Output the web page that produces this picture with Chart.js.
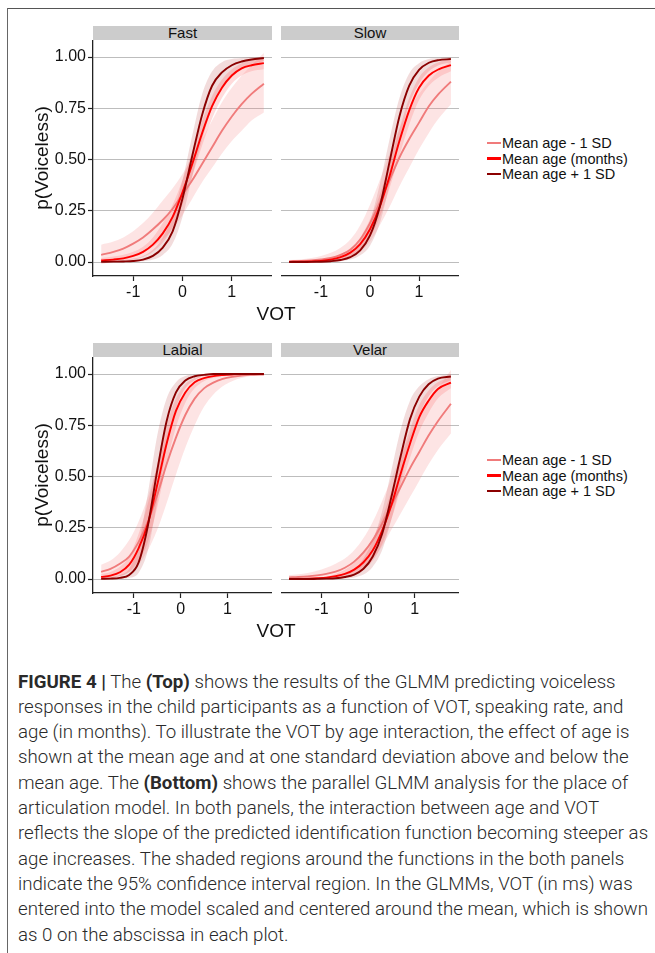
<!DOCTYPE html>
<html>
<head>
<meta charset="utf-8">
<script src="https://cdn.jsdelivr.net/npm/chart.js@4.4.1/dist/chart.umd.min.js"></script>
<style>
  html, body { margin:0; padding:0; background:#fff; }
  body { width:655px; height:953px; position:relative; overflow:hidden; font-family:"Liberation Sans", Arial, sans-serif; color:#111; }
  .abs { position:absolute; }
  .strip { position:absolute; height:14px; background:#cccccc; text-align:center; font-size:15px; line-height:14px; color:#111; }
  .ytitle { position:absolute; transform:translate(-50%,-50%) rotate(-90deg); font-size:19px; white-space:nowrap; }
  .xtitle { position:absolute; transform:translate(-50%,-50%); font-size:19px; white-space:nowrap; }
  .lkey { position:absolute; width:14px; height:2.5px; }
  .ltxt { position:absolute; font-size:14.5px; white-space:nowrap; transform:translateY(-50%); line-height:16px; }
  .cap { position:absolute; left:18px; font-family:Roboto, "Liberation Sans", sans-serif; font-weight:300; font-size:18px; color:#2a2a2a; white-space:nowrap; line-height:25px; transform-origin:0 50%; }
  .cap b { font-weight:700; }
  canvas { position:absolute; }
</style>
</head>
<body>
<div class="abs" style="left:7px;top:8px;width:648px;height:1px;background:#555"></div>
<div class="abs" style="left:7px;top:8px;width:1px;height:945px;background:#666"></div>

<div class="strip" style="left:93px;top:26px;width:179px">Fast</div>
<div class="strip" style="left:281px;top:26px;width:178px">Slow</div>
<div class="strip" style="left:93px;top:343px;width:179px">Labial</div>
<div class="strip" style="left:281px;top:343px;width:178px">Velar</div>

<canvas id="c1" width="232" height="266" style="left:40px;top:40px"></canvas>
<canvas id="c2" width="178" height="266" style="left:281px;top:40px"></canvas>
<canvas id="c3" width="232" height="266" style="left:40px;top:357px"></canvas>
<canvas id="c4" width="178" height="266" style="left:281px;top:357px"></canvas>

<div class="ytitle" style="left:42px;top:158px">p(Voiceless)</div>
<div class="ytitle" style="left:42px;top:475px">p(Voiceless)</div>
<div class="xtitle" style="left:276px;top:314px">VOT</div>
<div class="xtitle" style="left:276px;top:631px">VOT</div>

<div id="legends"></div>

<div id="caption"></div>

<script>
// ---------- data ----------
const yTicks = [0, 0.25, 0.5, 0.75, 1];
const xTicks = [-1, 0, 1];
const legendLabels = ["Mean age - 1 SD", "Mean age (months)", "Mean age + 1 SD"];

// Top panels (speaking rate)
const xTop = [-1.65,-1.4,-1.2,-1.0,-0.8,-0.6,-0.4,-0.2,0,0.2,0.4,0.6,0.8,1.0,1.2,1.4,1.65];

const fastLow    = [0.035,0.05,0.066,0.09,0.12,0.16,0.205,0.26,0.33,0.40,0.48,0.56,0.64,0.71,0.77,0.82,0.87];
const fastLowLo  = [-0.01,0.0,0.01,0.025,0.045,0.075,0.11,0.16,0.23,0.31,0.39,0.46,0.53,0.59,0.64,0.69,0.73];
const fastLowHi  = [0.085,0.1,0.12,0.15,0.19,0.24,0.30,0.36,0.43,0.51,0.60,0.69,0.78,0.85,0.91,0.96,1.02];
const fastMean   = [0.008,0.012,0.018,0.03,0.05,0.085,0.14,0.22,0.34,0.48,0.63,0.76,0.85,0.91,0.945,0.96,0.97];
const fastMeanLo = [0.001,0.003,0.006,0.012,0.025,0.05,0.095,0.17,0.28,0.42,0.57,0.70,0.80,0.87,0.91,0.93,0.94];
const fastMeanHi = [0.02,0.027,0.036,0.05,0.075,0.12,0.19,0.28,0.40,0.54,0.69,0.81,0.89,0.94,0.97,0.985,0.995];
const fastHigh   = [0.001,0.002,0.003,0.005,0.012,0.03,0.07,0.15,0.31,0.52,0.72,0.86,0.925,0.96,0.978,0.988,0.995];
const fastHighLo = [0,0,0.001,0.002,0.004,0.012,0.035,0.09,0.22,0.42,0.60,0.75,0.85,0.91,0.945,0.965,0.98];
const fastHighHi = [0.004,0.006,0.01,0.017,0.03,0.06,0.12,0.23,0.40,0.62,0.82,0.93,0.975,0.99,0.995,1.0,1.0];

const slowLow    = [0.003,0.005,0.008,0.013,0.02,0.035,0.06,0.11,0.19,0.29,0.40,0.51,0.60,0.68,0.76,0.82,0.88];
const slowLowLo  = [0,0,0.001,0.003,0.006,0.012,0.025,0.05,0.1,0.18,0.27,0.37,0.46,0.55,0.63,0.70,0.77];
const slowLowHi  = [0.01,0.014,0.02,0.03,0.045,0.07,0.11,0.18,0.28,0.40,0.53,0.65,0.75,0.82,0.88,0.93,0.98];
const slowMean   = [0.001,0.002,0.003,0.006,0.012,0.024,0.046,0.087,0.16,0.27,0.42,0.59,0.74,0.85,0.91,0.94,0.96];
const slowMeanLo = [0,0,0.001,0.002,0.006,0.014,0.03,0.06,0.12,0.22,0.36,0.52,0.67,0.79,0.86,0.9,0.93];
const slowMeanHi = [0.003,0.004,0.006,0.011,0.021,0.038,0.068,0.12,0.21,0.33,0.48,0.65,0.80,0.90,0.95,0.975,0.99];
const slowHigh   = [0,0,0.001,0.0015,0.004,0.01,0.024,0.057,0.13,0.27,0.49,0.71,0.86,0.937,0.972,0.985,0.99];
const slowHighLo = [0,0,0,0,0.001,0.004,0.012,0.033,0.08,0.19,0.38,0.60,0.77,0.87,0.93,0.96,0.975];
const slowHighHi = [0.001,0.002,0.003,0.005,0.01,0.022,0.045,0.1,0.2,0.38,0.60,0.80,0.92,0.97,0.99,0.995,1.0];

// Bottom panels (place of articulation)
const xBottom = [-1.7,-1.5,-1.3,-1.1,-0.9,-0.7,-0.5,-0.3,-0.1,0.1,0.3,0.5,0.7,0.9,1.1,1.3,1.5,1.78];

const labLow    = [0.035,0.05,0.075,0.11,0.18,0.28,0.41,0.56,0.69,0.80,0.88,0.93,0.958,0.976,0.986,0.992,0.996,0.998];
const labLowLo  = [0,0.005,0.015,0.035,0.07,0.14,0.24,0.37,0.51,0.64,0.75,0.84,0.9,0.94,0.965,0.98,0.99,0.995];
const labLowHi  = [0.07,0.09,0.13,0.19,0.28,0.40,0.55,0.70,0.82,0.90,0.95,0.975,0.99,0.995,1.0,1.0,1.0,1.0];
const labMean   = [0.01,0.017,0.033,0.07,0.15,0.27,0.46,0.66,0.82,0.91,0.96,0.98,0.99,0.995,0.998,1,1,1];
const labMeanLo = [0.003,0.006,0.015,0.035,0.09,0.18,0.35,0.56,0.74,0.86,0.93,0.965,0.98,0.99,0.995,0.997,0.998,1.0];
const labMeanHi = [0.025,0.035,0.06,0.11,0.22,0.37,0.56,0.75,0.88,0.95,0.98,0.99,0.996,0.998,1,1,1,1];
const labHigh   = [0.001,0.002,0.006,0.02,0.08,0.26,0.53,0.77,0.91,0.968,0.989,0.996,1,1,1,1,1,1];
const labHighLo = [0,0,0.001,0.006,0.03,0.14,0.38,0.64,0.83,0.93,0.97,0.99,0.995,1,1,1,1,1];
const labHighHi = [0.004,0.008,0.02,0.05,0.17,0.42,0.70,0.88,0.96,0.99,0.996,1,1,1,1,1,1,1];

const velLow    = [0.008,0.01,0.013,0.018,0.025,0.036,0.055,0.085,0.13,0.19,0.27,0.36,0.45,0.54,0.62,0.70,0.77,0.855];
const velLowLo  = [0,0.001,0.002,0.004,0.007,0.012,0.02,0.035,0.06,0.1,0.16,0.24,0.32,0.40,0.48,0.56,0.63,0.71];
const velLowHi  = [0.02,0.024,0.03,0.04,0.055,0.075,0.1,0.14,0.2,0.28,0.38,0.49,0.6,0.7,0.79,0.87,0.93,1.02];
const velMean   = [0.0006,0.001,0.002,0.004,0.007,0.014,0.025,0.046,0.082,0.14,0.235,0.36,0.515,0.66,0.79,0.87,0.927,0.958];
const velMeanLo = [0,0,0,0.001,0.002,0.005,0.01,0.022,0.045,0.09,0.17,0.29,0.44,0.59,0.72,0.81,0.88,0.93];
const velMeanHi = [0.002,0.003,0.005,0.008,0.013,0.025,0.045,0.08,0.13,0.2,0.3,0.43,0.59,0.73,0.85,0.92,0.96,0.985];
const velHigh   = [0,0,0,0.001,0.002,0.004,0.01,0.022,0.05,0.11,0.22,0.40,0.60,0.78,0.89,0.95,0.978,0.988];
const velHighLo = [0,0,0,0,0,0.001,0.003,0.008,0.022,0.06,0.14,0.29,0.47,0.66,0.8,0.89,0.94,0.97];
const velHighHi = [0.001,0.001,0.002,0.003,0.005,0.01,0.02,0.045,0.1,0.19,0.33,0.53,0.73,0.87,0.94,0.975,0.99,1.0];

// ---------- styles ----------
const lineColors = ["#f07b7b", "#ff0000", "#8b0000"];
const bandColors = ["rgba(245,120,120,0.20)", "rgba(255,0,0,0.14)", "rgba(170,20,20,0.15)"];
const FONT = '"Liberation Sans", Arial, sans-serif';
const INK = "#111";
const AXIS = "#222";

function makePanel(id, xs, series, xMin, xMax, showY) {
  const pts = arr => xs.map((x, i) => ({ x: x, y: arr[i] }));
  const lineDs = (arr, k) => ({
    data: pts(arr), borderColor: lineColors[k], borderWidth: 1.9, pointRadius: 0,
    fill: false, cubicInterpolationMode: 'monotone'
  });
  const hidden = arr => ({
    data: pts(arr), borderColor: 'transparent', borderWidth: 0, pointRadius: 0,
    fill: false, cubicInterpolationMode: 'monotone'
  });
  const band = (arr, k) => ({
    data: pts(arr), borderColor: 'transparent', borderWidth: 0, pointRadius: 0,
    fill: '-1', backgroundColor: bandColors[k], cubicInterpolationMode: 'monotone'
  });
  const datasets = [
    lineDs(series[2].v, 2), lineDs(series[1].v, 1), lineDs(series[0].v, 0),
    hidden(series[0].lo), band(series[0].hi, 0),
    hidden(series[1].lo), band(series[1].hi, 1),
    hidden(series[2].lo), band(series[2].hi, 2)
  ];
  new Chart(document.getElementById(id), {
    type: 'line',
    data: { datasets },
    options: {
      responsive: false, maintainAspectRatio: false, animation: false,
      layout: { padding: 0 },
      plugins: { legend: { display: false }, tooltip: { enabled: false }, title: { display: false } },
      scales: {
        x: {
          type: 'linear', min: xMin, max: xMax,
          afterBuildTicks: s => { s.ticks = xTicks.map(v => ({ value: v })); },
          afterFit: s => { s.height = 30; s.paddingLeft = 0; s.paddingRight = 0; },
          ticks: { callback: v => String(v), font: { family: FONT, size: 16 }, color: INK, padding: 2, maxRotation: 0 },
          grid: { drawOnChartArea: false, drawTicks: true, tickLength: 5, tickColor: AXIS, tickWidth: 1.2 },
          border: { display: true, color: AXIS, width: 1.3 }
        },
        y: {
          type: 'linear', min: -0.068, max: 1.083,
          afterBuildTicks: s => { s.ticks = yTicks.map(v => ({ value: v })); },
          afterFit: s => { s.width = showY ? 53 : 0; s.paddingTop = 0; s.paddingBottom = 0; },
          ticks: { display: showY, callback: v => Number(v).toFixed(2), font: { family: FONT, size: 16 }, color: INK, padding: 2 },
          grid: { color: '#bdbdbd', lineWidth: 1, drawTicks: showY, tickLength: 5, tickColor: AXIS, tickWidth: 1.2 },
          border: { display: showY, color: AXIS, width: 1.3 }
        }
      }
    }
  });
}

const topMin = -1.815, topMax = 1.815, botMin = -1.874, botMax = 1.954;

makePanel('c1', xTop, [
  { v: fastLow, lo: fastLowLo, hi: fastLowHi },
  { v: fastMean, lo: fastMeanLo, hi: fastMeanHi },
  { v: fastHigh, lo: fastHighLo, hi: fastHighHi }
], topMin, topMax, true);
makePanel('c2', xTop, [
  { v: slowLow, lo: slowLowLo, hi: slowLowHi },
  { v: slowMean, lo: slowMeanLo, hi: slowMeanHi },
  { v: slowHigh, lo: slowHighLo, hi: slowHighHi }
], topMin, topMax, false);
makePanel('c3', xBottom, [
  { v: labLow, lo: labLowLo, hi: labLowHi },
  { v: labMean, lo: labMeanLo, hi: labMeanHi },
  { v: labHigh, lo: labHighLo, hi: labHighHi }
], botMin, botMax, true);
makePanel('c4', xBottom, [
  { v: velLow, lo: velLowLo, hi: velLowHi },
  { v: velMean, lo: velMeanLo, hi: velMeanHi },
  { v: velHigh, lo: velHighLo, hi: velHighHi }
], botMin, botMax, false);

// ---------- legends ----------
const legWrap = document.getElementById('legends');
[143, 460].forEach(top => {
  legendLabels.forEach((lab, i) => {
    const cy = top + i * 15.5;
    const k = document.createElement('div');
    k.className = 'lkey';
    k.style.left = '487px'; k.style.top = (cy - 1.25) + 'px'; k.style.background = lineColors[i];
    legWrap.appendChild(k);
    const t = document.createElement('div');
    t.className = 'ltxt';
    t.style.left = '502px'; t.style.top = cy + 'px';
    t.textContent = lab;
    legWrap.appendChild(t);
  });
});

// ---------- caption ----------
const captionLines = [
  '<b>FIGURE 4 |</b> The <b>(Top)</b> shows the results of the GLMM predicting voiceless',
  'responses in the child participants as a function of VOT, speaking rate, and',
  'age (in months). To illustrate the VOT by age interaction, the effect of age is',
  'shown at the mean age and at one standard deviation above and below the',
  'mean age. The <b>(Bottom)</b> shows the parallel GLMM analysis for the place of',
  'articulation model. In both panels, the interaction between age and VOT',
  'reflects the slope of the predicted identification function becoming steeper as',
  'age increases. The shaded regions around the functions in the both panels',
  'indicate the 95% confidence interval region. In the GLMMs, VOT (in ms) was',
  'entered into the model scaled and centered around the mean, which is shown',
  'as 0 on the abscissa in each plot.'
];
const capWrap = document.getElementById('caption');
const capEls = captionLines.map((html, i) => {
  const d = document.createElement('div');
  d.className = 'cap';
  d.style.top = (681 + i * 25.3 - 12.5) + 'px';
  d.innerHTML = html;
  capWrap.appendChild(d);
  return d;
});
const w10 = capEls[9].getBoundingClientRect().width;
const sx = 630 / w10;
capEls.forEach(d => { d.style.transform = 'scaleX(' + sx.toFixed(4) + ')'; });
</script>
</body>
</html>
